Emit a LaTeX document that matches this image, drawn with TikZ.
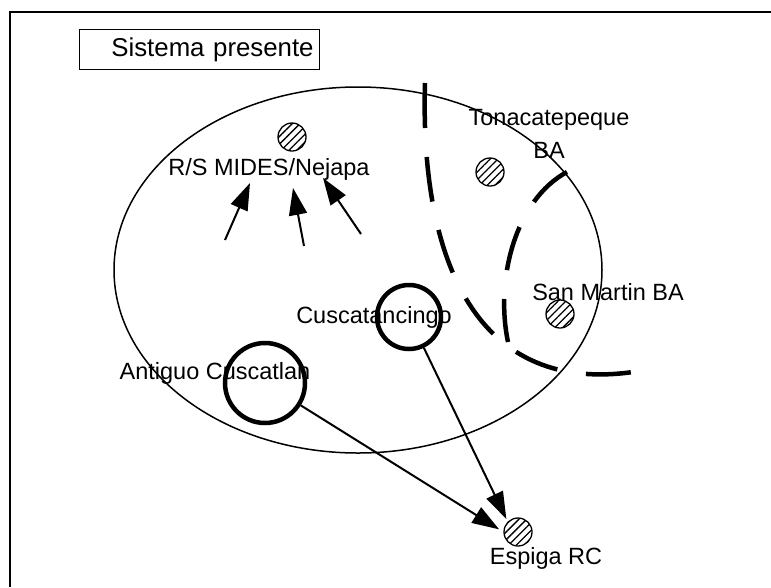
\documentclass[tikz,border=0pt]{standalone}
\usepackage{fontspec}
\setmainfont{Liberation Sans}
\usetikzlibrary{arrows.meta,patterns.meta}

\begin{document}
\begin{tikzpicture}[x=1pt,y=-1pt]
\tikzstyle{every node}=[font=\fontsize{23.5}{33}\selectfont]
\tikzstyle{site}=[shape=circle, draw=black, line width=1.3pt, minimum size=28pt, inner sep=0pt,
  pattern={Lines[angle=45,distance=5.5pt,line width=1.3pt]}]
\tikzstyle{town}=[shape=circle, draw=black, line width=4.5pt, inner sep=0pt]
\tikzstyle{lbl}=[inner sep=0pt, anchor=base]
\tikzstyle{flow}=[line width=2pt, -{Triangle[length=27pt,width=18pt]}]
\tikzstyle{border}=[line width=4.5pt, dash pattern=on 45pt off 29pt]
\useasboundingbox (0,0) rectangle (771,587);
\draw[line width=1.5pt] (10,587) -- (10,12) -- (771,12);
\node[draw, line width=1.2pt, anchor=north west, minimum height=40pt, inner xsep=6pt,
  text width=228pt, align=right, font=\fontsize{25.8}{30}\selectfont] (title) at (79,29) {Sistema presente};
\draw[line width=1.5pt] (358,270) ellipse [x radius=244, y radius=183];

\node[site] (mides) at (292,137) {};
\node[site] (tonaca) at (490,172) {};
\node[site] (sanmartin) at (560,314) {};
\node[site] (espiga) at (518,532) {};
\node[town, minimum size=80pt] (antiguo) at (265,383) {};
\node[town, minimum size=64pt] (cusca) at (409,317) {};

\node[lbl] (midesl) at (269,175) {R/S MIDES/Nejapa};
\node[lbl, align=center] (tonacal) at (549,158) {Tonacatepeque\\BA};
\node[lbl] (sanmartinl) at (608,300) {San Martin BA};
\node[lbl] (espigal) at (546,564) {Espiga RC};
\node[lbl] (antiguol) at (215,379) {Antiguo Cuscatlan};
\node[lbl] (cuscal) at (374,323) {Cuscatancingo};

\coordinate (in1) at (225,240);
\coordinate (in2) at (304,246);
\coordinate (in3) at (361,234);
\coordinate (to1) at (250,183);
\coordinate (to2) at (293,188);
\coordinate (to3) at (323,178);
\draw[flow] (in1) -- (to1);
\draw[flow] (in2) -- (to2);
\draw[flow] (in3) -- (to3);
\draw[flow, shorten >=5pt] (antiguo) -- (espiga.west);
\draw[flow, shorten >=3pt] (cusca) -- (espiga.north west);

\draw[border] (425,83) .. controls (420,250) and (470,395) .. (633,372);
\draw[border] (567,172) .. controls (515,200) and (495,280) .. (508,342);
\end{tikzpicture}
\end{document}
